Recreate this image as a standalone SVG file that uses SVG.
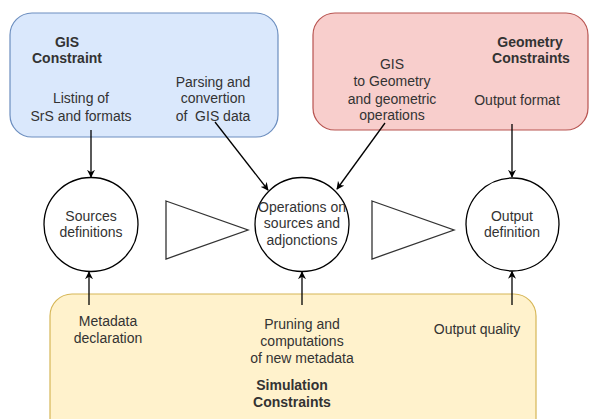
<svg xmlns="http://www.w3.org/2000/svg" width="589" height="419" viewBox="0 0 589 419">
<style>
text{font-family:"Liberation Sans",Arial,sans-serif;font-size:14px;fill:#333;text-anchor:middle}
.b{font-weight:bold}
.c{fill:#fff;stroke:#000;stroke-width:1.3}
.t{fill:#fff;stroke:#333;stroke-width:1.3}
.e{fill:none;stroke:#000;stroke-width:1.3}
</style>
<defs>
<marker id="a" viewBox="0 0 10 10" refX="9" refY="5" markerWidth="8" markerHeight="8" markerUnits="userSpaceOnUse" orient="auto">
<path d="M0,0 L10,5 L0,10 L3,5 Z" fill="#000"/>
</marker>
</defs>
<rect width="589" height="419" fill="#fff"/>
<g id="gis">
<rect x="10" y="13" width="268" height="124" rx="22" fill="#dae8fc" stroke="#6c8ebf" stroke-width="1.2"/>
<text class="b" x="67" y="47">GIS</text>
<text class="b" x="67" y="63">Constraint</text>
<text x="81" y="103">Listing of</text>
<text x="81" y="121">SrS and formats</text>
<text x="213" y="87">Parsing and</text>
<text x="213" y="103">convertion</text>
<text x="213" y="121" xml:space="preserve">of  GIS data</text>
</g>
<g id="geometry">
<rect x="313" y="13" width="275" height="117" rx="22" fill="#f8cecc" stroke="#b85450" stroke-width="1.2"/>
<text x="392" y="69">GIS</text>
<text x="392" y="86">to Geometry</text>
<text x="392" y="104">and geometric</text>
<text x="392" y="120">operations</text>
<text class="b" x="530" y="47">Geometry</text>
<text class="b" x="531" y="63">Constraints</text>
<text x="517" y="105">Output format</text>
</g>
<g id="simulation">
<rect x="50" y="294" width="486" height="150" rx="22" fill="#fff2cc" stroke="#d6b656" stroke-width="1.2"/>
<text x="108" y="326">Metadata</text>
<text x="108" y="343">declaration</text>
<text x="302" y="329">Pruning and</text>
<text x="302" y="346">computations</text>
<text x="302" y="363">of new metadata</text>
<text class="b" x="292" y="390">Simulation</text>
<text class="b" x="292" y="407">Constraints</text>
<text x="477" y="334">Output quality</text>
</g>
<g id="sources">
<circle class="c" cx="91" cy="224.5" r="47"/>
<text x="91" y="221">Sources</text>
<text x="91" y="237">definitions</text>
</g>
<g id="operations">
<circle class="c" cx="302" cy="224.5" r="47"/>
<text x="302" y="212">Operations on</text>
<text x="302" y="228">sources and</text>
<text x="302" y="245">adjonctions</text>
</g>
<g id="output">
<circle class="c" cx="512.5" cy="224.5" r="46.5"/>
<text x="512" y="221">Output</text>
<text x="512" y="237">definition</text>
</g>
<g id="tri1"><polygon class="t" points="166,201 248,230 166,259"/></g>
<g id="tri2"><polygon class="t" points="372,201 454,230 372,259"/></g>
<g id="connectors">
<line class="e" x1="91" y1="130" x2="91" y2="177" marker-end="url(#a)"/>
<line class="e" x1="215" y1="122" x2="268" y2="190" marker-end="url(#a)"/>
<line class="e" x1="385" y1="123" x2="337" y2="189" marker-end="url(#a)"/>
<line class="e" x1="512" y1="124" x2="512" y2="177" marker-end="url(#a)"/>
<line class="e" x1="89" y1="305" x2="89" y2="272" marker-end="url(#a)"/>
<line class="e" x1="302" y1="305" x2="302" y2="272" marker-end="url(#a)"/>
<line class="e" x1="512" y1="305" x2="512" y2="271.5" marker-end="url(#a)"/>
</g>
</svg>
